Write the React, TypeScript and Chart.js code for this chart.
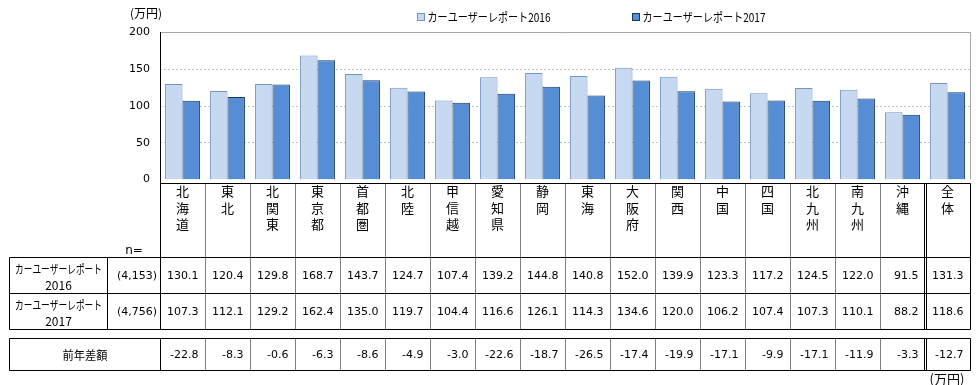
import React, { useEffect, useRef } from 'react';
import { Chart, registerables } from 'chart.js';
Chart.register(...registerables);

const categories = ['北海道', '東北', '北関東', '東京都', '首都圏', '北陸', '甲信越', '愛知県', '静岡', '東海', '大阪府', '関西', '中国', '四国', '北九州', '南九州', '沖縄', '全体'];
const series2016 = [130.1, 120.4, 129.8, 168.7, 143.7, 124.7, 107.4, 139.2, 144.8, 140.8, 152.0, 139.9, 123.3, 117.2, 124.5, 122.0, 91.5, 131.3];
const series2017 = [107.3, 112.1, 129.2, 162.4, 135.0, 119.7, 104.4, 116.6, 126.1, 114.3, 134.6, 120.0, 106.2, 107.4, 107.3, 110.1, 88.2, 118.6];
const diffs = [-22.8, -8.3, -0.6, -6.3, -8.6, -4.9, -3.0, -22.6, -18.7, -26.5, -17.4, -19.9, -17.1, -9.9, -17.1, -11.9, -3.3, -12.7];
const seriesLabels = ['カーユーザーレポート2016', 'カーユーザーレポート2017'];
const rowLabelTop = 'カーユーザーレポート';
const rowLabelYears = ['2016', '2017'];
const sampleSizes = ['(4,153)', '(4,756)'];
const nLabel = 'n=';
const diffLabel = '前年差額';
const unitLabel = '(万円)';
const yTickStep = 50;
const yMax = 200;

const C16 = '#C6D9F1';
const B16 = '#7394BE';
const C17 = '#558ED5';
const B17 = '#17375E';
const JP = '"Noto Sans CJK JP", sans-serif';
const NUM = '"DejaVu Sans", sans-serif';

const tablePlugin = {
  id: 'tablePlugin',
  beforeDatasetsDraw(chart: any) {
    const { ctx, chartArea: a, scales } = chart;
    const y = scales.y;
    ctx.save();
    ctx.lineWidth = 1;
    ctx.strokeStyle = '#C0C0C0';
    ctx.setLineDash([2, 2]);
    for (let v = yTickStep; v < yMax; v += yTickStep) {
      const py = Math.floor(y.getPixelForValue(v)) + 0.5;
      ctx.beginPath(); ctx.moveTo(a.left, py); ctx.lineTo(a.right, py); ctx.stroke();
    }
    ctx.setLineDash([]);
    ctx.strokeStyle = '#A6A6A6';
    const top = Math.floor(y.getPixelForValue(yMax)) + 0.5;
    ctx.beginPath(); ctx.moveTo(a.left, top); ctx.lineTo(a.right + 0.5, top); ctx.lineTo(a.right + 0.5, a.bottom); ctx.stroke();
    ctx.restore();
  },
  afterDraw(chart: any) {
    const { ctx, chartArea: a, scales } = chart;
    const x = scales.x;
    const n = categories.length;
    const colW = (a.right - a.left) / n;
    const bnd = (i: number) => x.getPixelForValue(i - 0.5);
    const L = 9.5, NC = 107.5;
    const yAx = Math.floor(a.left) + 0.5;
    const R = Math.floor(a.right) + 0.5;
    const hTop = 183.5, r1 = 257.5, r2 = 293.5, r3 = 329.5, dTop = 338.5, dBot = 370.5;
    ctx.save();
    const line = (x1: number, y1: number, x2: number, y2: number) => { ctx.beginPath(); ctx.moveTo(x1, y1); ctx.lineTo(x2, y2); ctx.stroke(); };
    ctx.strokeStyle = '#000'; ctx.lineWidth = 1;
    // y axis line
    line(yAx, Math.floor(a.top), yAx, r3);
    // horizontal lines
    line(yAx, hTop, R, hTop);
    for (const yy of [r1, r2, r3, dTop, dBot]) line(L, yy, R, yy);
    // verticals
    line(L, r1, L, r3); line(NC, r1, NC, r3);
    line(R, hTop, R, r3);
    line(L, dTop, L, dBot); line(yAx, dTop, yAx, dBot); line(R, dTop, R, dBot);
    // dotted dividers
    ctx.setLineDash([1, 1]);
    for (let i = 1; i < n - 1; i++) {
      const bx = Math.floor(bnd(i)) + 0.5;
      line(bx, hTop, bx, r3); line(bx, dTop, bx, dBot);
    }
    ctx.setLineDash([]);
    // double line before 全体
    const db = Math.round(bnd(n - 1));
    for (const dx of [db - 0.5, db + 1.5]) { line(dx, hTop, dx, r3); line(dx, dTop, dx, dBot); }

    ctx.fillStyle = '#000';
    // header chars
    ctx.textAlign = 'center'; ctx.textBaseline = 'middle';
    ctx.font = `13px ${JP}`;
    categories.forEach((c, i) => {
      const cx = x.getPixelForValue(i);
      Array.from(c).forEach((ch, k) => ctx.fillText(ch, cx, 191 + k * 16.7));
    });
    // numbers
    ctx.font = `11px ${NUM}`;
    ctx.textAlign = 'right';
    const rows = [series2016, series2017, diffs];
    const rowY = [276, 312, 355];
    rows.forEach((arr, r) => {
      arr.forEach((v, i) => ctx.fillText(v.toFixed(1), bnd(i + 1) - 6.5, rowY[r]));
    });
    sampleSizes.forEach((s, r) => ctx.fillText(s, 157, rowY[r]));
    // labels
    ctx.textAlign = 'center';
    ctx.font = `12px ${JP}`;
    const lc = (L + NC) / 2;
    ctx.fillText(rowLabelTop, lc, 269, 87); ctx.fillText(rowLabelYears[0], lc, 285);
    ctx.fillText(rowLabelTop, lc, 305, 87); ctx.fillText(rowLabelYears[1], lc, 321);
    ctx.fillText(diffLabel, (L + yAx) / 2, 355, 45);
    ctx.font = `12px ${NUM}`;
    ctx.fillText(nLabel, (NC + yAx) / 2, 251);
    // unit labels
    ctx.font = `12px ${JP}`;
    ctx.fillText(unitLabel, 146, 13, 33);
    ctx.font = `13px ${JP}`;
    ctx.fillText(unitLabel, 947, 379, 40);
    // legend
    ctx.textAlign = 'left';
    const leg = [[417.5, C16, B16], [632.5, C17, B17]] as const;
    leg.forEach(([lx, f, b], i) => {
      ctx.fillStyle = f; ctx.fillRect(lx, 13.5, 7, 7);
      ctx.strokeStyle = b; ctx.strokeRect(lx, 13.5, 7, 7);
      ctx.fillStyle = '#000';
      ctx.font = `12px ${JP}`;
      ctx.fillText(seriesLabels[i], lx + 10, 17, 123);
    });
    ctx.restore();
  },
};

export default function App() {
  const ref = useRef<HTMLCanvasElement>(null);
  useEffect(() => {
    document.body.style.margin = '0';
    const chart = new Chart(ref.current!, {
      type: 'bar',
      data: {
        labels: categories,
        datasets: [
          { label: seriesLabels[0], data: series2016, backgroundColor: C16, borderColor: B16, borderWidth: 1, categoryPercentage: 0.775, barPercentage: 1 },
          { label: seriesLabels[1], data: series2017, backgroundColor: C17, borderColor: B17, borderWidth: 1, categoryPercentage: 0.775, barPercentage: 1 },
        ],
      },
      options: {
        animation: false,
        responsive: false,
        devicePixelRatio: 1,
        layout: { padding: { left: 0, right: 10, top: 32.5, bottom: 205.5 } },
        plugins: { legend: { display: false }, tooltip: { enabled: false } },
        scales: {
          x: { display: false },
          y: {
            min: 0, max: yMax,
            afterFit: (s: any) => { s.width = 160; },
            grid: { display: false, drawTicks: false },
            border: { display: false },
            ticks: { stepSize: yTickStep, padding: 10, color: '#000', font: { family: 'DejaVu Sans', size: 11 } },
          },
        },
      },
      plugins: [tablePlugin],
    });
    return () => chart.destroy();
  }, []);
  return (
    <div style={{ width: 980, height: 385 }}>
      <canvas ref={ref} width={980} height={385} style={{ display: 'block' }} />
    </div>
  );
}
